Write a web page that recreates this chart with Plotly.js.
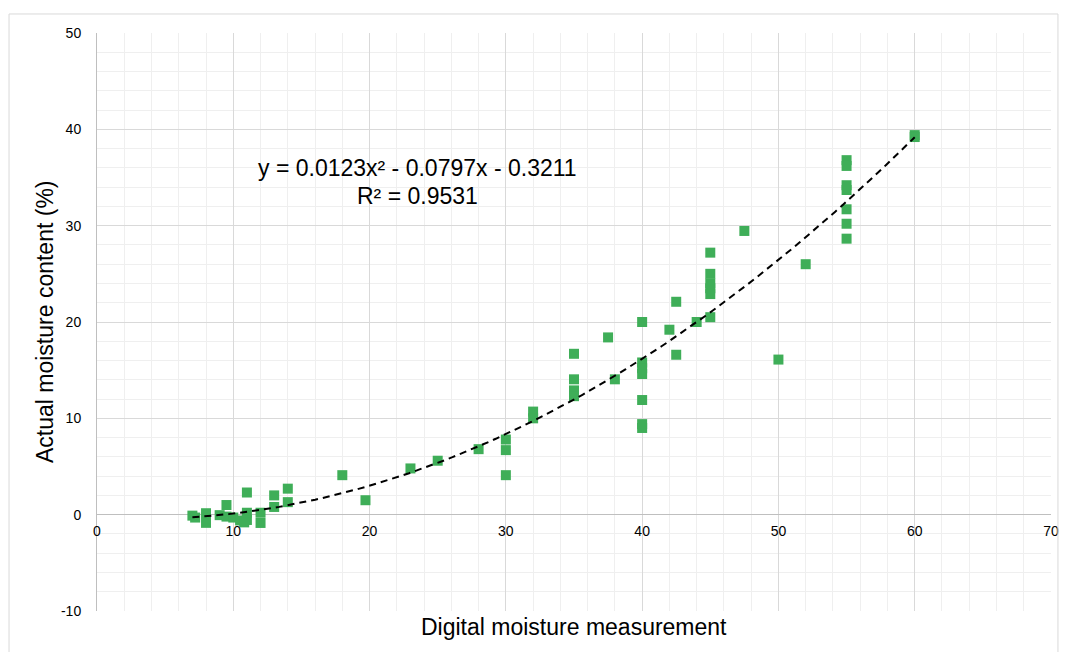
<!DOCTYPE html>
<html>
<head>
<meta charset="utf-8">
<script src="https://cdn.plot.ly/plotly-3.0.1.min.js"></script>
<style>html,body{margin:0;padding:0;background:#fff;}#chart{width:1066px;height:652px;}</style>
</head>
<body>
<div id="chart"></div>
<script>
// Data
const digitalReading = [7, 7.2, 8, 8, 9, 9.5, 9.5, 10, 10.5, 11, 11, 11, 10.8, 12, 12, 13, 13, 14, 14, 18, 19.7, 23, 25, 28, 30, 30, 30, 32, 32, 35, 35, 35, 35, 37.5, 38, 40, 40, 40, 40, 40, 40, 40, 42, 42.5, 42.5, 44, 45, 45, 45, 45, 45, 45, 47.5, 50, 52, 55, 55, 55, 55, 55, 55, 55, 60, 60];
const actualMoisture = [-0.1, -0.3, 0.15, -0.85, -0.05, 1.0, -0.2, -0.3, -0.6, 2.3, 0.2, -0.55, -0.8, 0.2, -0.86, 2.0, 0.8, 2.7, 1.3, 4.1, 1.5, 4.8, 5.6, 6.8, 7.8, 6.7, 4.1, 10.7, 10.0, 16.7, 14.05, 12.9, 12.3, 18.4, 14.05, 20.0, 15.8, 15.2, 14.6, 11.9, 9.4, 9.0, 19.2, 22.1, 16.6, 20.0, 27.2, 25.0, 24.0, 23.5, 22.9, 20.5, 29.45, 16.1, 26.0, 36.8, 36.2, 34.2, 33.7, 31.7, 30.2, 28.65, 39.4, 39.2];

// Trendline coefficients shown on the chart
const fitA = 0.0123, fitB = -0.0797, fitC = -0.3211;
const fitLabel = "y = 0.0123x² - 0.0797x - 0.3211";
const r2Label = "R² = 0.9531";

const xTickVals = [0, 10, 20, 30, 40, 50, 60, 70];
const yTickVals = [-10, 0, 10, 20, 30, 40, 50];

// Trendline sampled across the data range
const xMin = Math.min(...digitalReading), xMax = Math.max(...digitalReading);
const trendX = [], trendY = [];
for (let i = 0; i <= 100; i++) {
  const x = xMin + (xMax - xMin) * i / 100;
  trendX.push(x);
  trendY.push(fitA * x * x + fitB * x + fitC);
}

const font = "Liberation Sans, Arial, sans-serif";

const traces = [
  {
    x: digitalReading, y: actualMoisture, type: 'scatter', mode: 'markers',
    marker: {symbol: 'square', size: 10, color: '#3fae58', line: {width: 0}},
    hoverinfo: 'x+y', showlegend: false
  },
  {
    x: trendX, y: trendY, type: 'scatter', mode: 'lines',
    line: {color: '#000000', width: 2, dash: '7px,5px'},
    hoverinfo: 'skip', showlegend: false
  }
];

const layout = {
  width: 1066, height: 652,
  margin: {l: 97, r: 15, t: 33, b: 41},
  paper_bgcolor: '#ffffff', plot_bgcolor: '#ffffff',
  font: {family: font, color: '#000000', size: 14},
  showlegend: false,
  xaxis: {
    range: [0, 70], tickvals: xTickVals, ticktext: xTickVals.map(String),
    anchor: 'free', position: 10 / 60,
    showgrid: true, gridcolor: '#d9d9d9', gridwidth: 1,
    minor: {dtick: 2, showgrid: true, gridcolor: '#efefef', gridwidth: 1},
    zeroline: false, showline: false, ticks: '', ticklabelstandoff: 6,
    tickfont: {size: 14, family: font, color: '#000'}
  },
  yaxis: {
    range: [-10, 50], tickvals: yTickVals, ticktext: yTickVals.map(String),
    showgrid: true, gridcolor: '#d9d9d9', gridwidth: 1,
    minor: {dtick: 2, showgrid: true, gridcolor: '#efefef', gridwidth: 1},
    zeroline: true, zerolinecolor: '#bfbfbf', zerolinewidth: 1,
    showline: true, linecolor: '#bfbfbf', linewidth: 1,
    ticks: '', ticklabelstandoff: 12,
    tickfont: {size: 14, family: font, color: '#000'}
  },
  annotations: [
    {xref: 'paper', yref: 'paper', x: 0.5, y: -0.0277, xanchor: 'center', yanchor: 'middle',
     text: 'Digital moisture measurement', showarrow: false,
     font: {size: 23, family: font, color: '#000'}},
    {xref: 'paper', yref: 'paper', x: -0.0545, y: 0.5, xanchor: 'center', yanchor: 'middle',
     textangle: -90, text: 'Actual moisture content (%)', showarrow: false,
     font: {size: 23, family: font, color: '#000'}},
    {xref: 'x', yref: 'y', x: 23.5, y: 36.0, xanchor: 'center', yanchor: 'middle',
     text: fitLabel, showarrow: false, font: {size: 23, family: font, color: '#000'}},
    {xref: 'x', yref: 'y', x: 23.5, y: 33.1, xanchor: 'center', yanchor: 'middle',
     text: r2Label, showarrow: false, font: {size: 23, family: font, color: '#000'}}
  ],
  shapes: [
    {type: 'rect', xref: 'paper', yref: 'paper', x0: -0.0922, x1: 1.0073, y0: -0.1, y1: 1.0329,
     line: {color: '#d9d9d9', width: 1}, fillcolor: 'rgba(0,0,0,0)', layer: 'above'}
  ]
};

Plotly.newPlot('chart', traces, layout, {displayModeBar: false, staticPlot: true});
</script>
</body>
</html>
